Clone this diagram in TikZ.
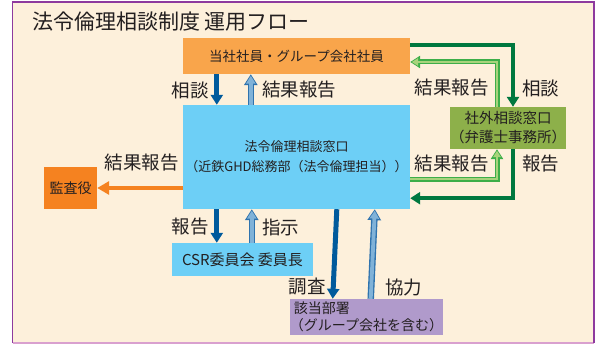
\documentclass[tikz,border=0pt]{standalone}
\usepackage{fontspec}
\setmainfont{Noto Sans CJK JP}
\usetikzlibrary{arrows.meta,calc}
\definecolor{bg}{HTML}{FDF0DB}
\definecolor{frame}{HTML}{8E3A9E}
\definecolor{framebot}{HTML}{D9A0CF}
\definecolor{orangeL}{HTML}{F9A54B}
\definecolor{orangeD}{HTML}{F58220}
\definecolor{cyanbox}{HTML}{6DCFF6}
\definecolor{greenbox}{HTML}{8DB04A}
\definecolor{purplebox}{HTML}{B09ACB}
\definecolor{dblue}{HTML}{005A9C}
\definecolor{lblue}{HTML}{80B2D8}
\definecolor{lblueO}{HTML}{2F73AE}
\definecolor{dgreen}{HTML}{00783F}
\definecolor{lgreen}{HTML}{A8D37C}
\definecolor{lgreenO}{HTML}{3DAE49}
\definecolor{txt}{HTML}{231F20}
\begin{document}
\begin{tikzpicture}[x=1pt,y=-1pt,
  box/.style={draw=none,inner sep=0pt,text=txt,align=center},
  lab/.style={text=txt,font=\fontsize{18.5}{20}\selectfont,inner sep=0pt},
  darr/.style={draw=dblue,line width=5pt,-{Triangle[width=12pt,length=10pt]}},
  uarrO/.style={draw=lblueO,line width=6.5pt,-{Triangle[width=13pt,length=11pt]}},
  uarrI/.style={draw=lblue,line width=3.8pt,shorten >=1.6pt,-{Triangle[width=9pt,length=7.8pt]}},
  garr/.style={draw=dgreen,line width=4.5pt,-{Triangle[width=12pt,length=10pt]}},
  lgarrO/.style={draw=lgreenO,line width=5pt,-{Triangle[width=12pt,length=10pt]}},
  lgarrI/.style={draw=lgreen,line width=2.2pt,shorten >=1.6pt,-{Triangle[width=7.4pt,length=6.4pt]}},
  oarr/.style={draw=orangeD,line width=4.5pt,-{Triangle[width=13pt,length=12pt]}}
]
\useasboundingbox (0,0) rectangle (595,345);
\fill[white] (0,0) rectangle (595,345);
\fill[bg] (12.5,2) rectangle (594,343);
\draw[framebot,line width=1.5pt] (12.5,343) -- (594,343);
\draw[frame,line width=1.5pt] (12.5,343) -- (12.5,2) -- (594,2) -- (594,343);

\node[anchor=west,text=txt,font=\fontsize{21}{23}\selectfont,inner sep=0pt] (title) at (32,22) {法令倫理相談制度 運用フロー};

% boxes
\node[box,fill=orangeL,minimum width=227pt,minimum height=36pt,font=\fontsize{13.5}{15}\selectfont] (top) at (296.5,56) {当社社員・グループ会社社員};
\node[box,fill=cyanbox,minimum width=227pt,minimum height=104pt,font=\fontsize{13}{20}\selectfont] (main) at (296.5,157) {法令倫理相談窓口\\（近鉄GHD総務部（法令倫理担当））};
\node[box,fill=orangeD,minimum width=53pt,minimum height=42pt,font=\fontsize{14}{16}\selectfont] (audit) at (70.5,188) {監査役};
\node[box,fill=cyanbox,minimum width=141pt,minimum height=33pt,font=\fontsize{15}{16}\selectfont] (csr) at (242.5,259.5) {CSR委員会 委員長};
\node[box,fill=purplebox,minimum width=145pt,minimum height=36pt,align=left,font=\fontsize{14}{17}\selectfont] (dept) at (366.5,317) {\hspace*{4pt}該当部署\\（グループ会社を含む）};
\node[box,fill=greenbox,minimum width=110pt,minimum height=42pt,font=\fontsize{14.5}{19}\selectfont] (ext) at (508,128) {社外相談窓口\\（弁護士事務所）};

% top <-> main
\draw[darr] ([xshift=34pt]top.south west) -- ([xshift=34pt]main.north west);
\draw[uarrO] ([xshift=68pt]main.north west) -- ([xshift=68pt]top.south west);
\draw[uarrI] ([xshift=68pt]main.north west) -- ([xshift=68pt]top.south west);
\node[lab,anchor=east] (l1) at (209,90) {相談};
\node[lab,anchor=west] (l2) at (262,90) {結果報告};

% main <-> csr
\draw[darr] ([xshift=34pt]main.south west) -- ([xshift=45pt]csr.north west);
\draw[uarrO] ([xshift=80pt]csr.north west) -- ([xshift=69pt]main.south west);
\draw[uarrI] ([xshift=80pt]csr.north west) -- ([xshift=69pt]main.south west);
\node[lab,anchor=east] (l3) at (209,227) {報告};
\node[lab,anchor=west] (l4) at (262,227) {指示};

% main <-> dept
\draw[darr] ([xshift=154pt]main.south west) -- ([xshift=43pt]dept.north west);
\draw[uarrO] ([xshift=81pt]dept.north west) -- ([xshift=192pt]main.south west);
\draw[uarrI] ([xshift=81pt]dept.north west) -- ([xshift=192pt]main.south west);
\node[lab,anchor=east] (l5) at (326,287) {調査};
\node[lab,anchor=west] (l6) at (385,287) {協力};

% main -> audit
\draw[oarr] (audit.east -| main.west) -- (audit.east);
\node[lab,anchor=east] (l7) at (179,163) {結果報告};

% top -> ext (dark green)
\draw[garr] ([yshift=11pt]top.east) -| ([xshift=5pt]ext.north);
\node[lab,anchor=west] (l8) at (522,88) {相談};
% ext -> main (dark green)
\draw[garr] ([xshift=5pt]ext.south) |- ([yshift=11pt]main.south east);
\node[lab,anchor=west] (l9) at (522,164) {報告};
% ext -> top (light green)
\draw[lgarrO] ([xshift=-11pt]ext.north) |- ([yshift=-6pt]top.east);
\draw[lgarrI] ([xshift=-11pt]ext.north) |- ([yshift=-6pt]top.east);
\node[lab,anchor=east] (l10) at (489,88) {結果報告};
% main -> ext (light green)
\draw[lgarrO] ([yshift=-22pt]main.east) -| ([xshift=-11pt]ext.south);
\draw[lgarrI] ([yshift=-22pt]main.east) -| ([xshift=-11pt]ext.south);
\node[lab,anchor=east] (l11) at (489,164) {結果報告};
\end{tikzpicture}
\end{document}
